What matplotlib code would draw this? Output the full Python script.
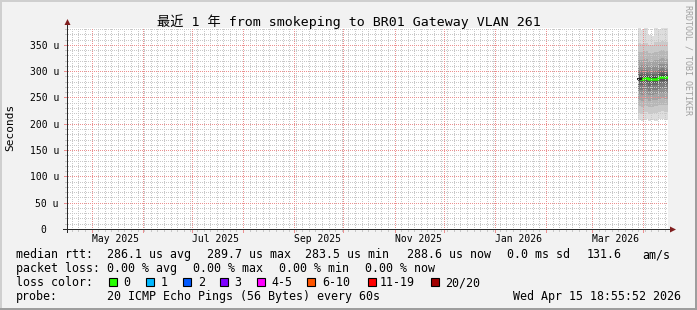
import matplotlib
matplotlib.use("Agg")
import matplotlib.pyplot as plt
import matplotlib.dates as mdates
from matplotlib.patches import Rectangle, Polygon
from matplotlib.transforms import blended_transform_factory
from datetime import datetime
import numpy as np

# ---------------- data ----------------
title = "最近 1 年 from smokeping to BR01 Gateway VLAN 261"
y_label = "Seconds"
t_start = datetime(2025, 4, 15, 18, 55, 52)
t_end = datetime(2026, 4, 15, 18, 55, 52)

month_labels = ["May 2025", "Jul 2025", "Sep 2025", "Nov 2025", "Jan 2026", "Mar 2026"]
month_label_dates = [datetime(2025, 5, 15), datetime(2025, 7, 15), datetime(2025, 9, 15),
                     datetime(2025, 11, 15), datetime(2026, 1, 15), datetime(2026, 3, 15)]

y_ticks_us = [0, 50, 100, 150, 200, 250, 300, 350]
y_minor_step_us = 10
y_max_us = 382
x_minor_step_days = 4

step_times = [datetime(2026, 3, 28, 12), datetime(2026, 3, 30, 12), datetime(2026, 4, 1, 12),
              datetime(2026, 4, 3, 12), datetime(2026, 4, 5, 12), datetime(2026, 4, 7, 12),
              datetime(2026, 4, 9, 12), datetime(2026, 4, 11, 12), datetime(2026, 4, 13, 12)]
median_us = [285.5, 286.0, 287.0, 284.5, 286.0, 285.0, 288.0, 289.5, 289.0]

# sorted 20 ping RTTs (us) per step
sorted_pings_us = [
    [208, 221, 233, 246, 256, 265, 274, 279, 283, 285.5, 287, 289, 292, 295, 301, 310, 321, 337, 353, 390],
    [206, 219, 232, 244, 255, 264, 273, 279, 283, 286, 287.5, 289.5, 292, 296, 302, 311, 322, 336, 351, 378],
    [209, 222, 234, 247, 257, 266, 275, 280, 284, 287, 288.5, 290.5, 293, 297, 303, 312, 323, 338, 354, 390],
    [205, 218, 231, 243, 254, 263, 272, 277, 281, 284.5, 286, 288, 291, 294, 300, 308, 319, 334, 350, 369],
    [207, 220, 232, 245, 255, 264, 273, 278, 283, 286, 287.5, 289.5, 292, 295, 301, 309, 320, 335, 350, 366],
    [206, 220, 233, 245, 256, 265, 273, 278, 282, 285, 286.5, 288.5, 291, 295, 301, 310, 321, 337, 355, 390],
    [209, 222, 235, 247, 258, 267, 276, 281, 285, 288, 289.5, 291.5, 294, 298, 304, 313, 324, 339, 355, 380],
    [210, 224, 236, 249, 259, 268, 277, 282, 287, 289.5, 291, 293, 296, 300, 306, 314, 325, 340, 357, 390],
    [208, 222, 235, 248, 258, 267, 276, 281, 286, 289, 290.5, 292.5, 295, 299, 305, 313, 324, 339, 356, 388],
]

legend_rows = [
    [("median rtt:", 16), ("286.1 us avg", 107.3), ("289.7 us max", 207.3), ("283.5 us min", 305),
     ("288.6 us now", 407.3), ("0.0 ms sd", 507.3), ("131.6", 586.7), ("am/s", 642.7)],
    [("packet loss:", 16), ("0.00 % avg", 107.3), ("0.00 % max", 193.3), ("0.00 % min", 279.3),
     ("0.00 % now", 365)],
    [("loss color:", 16)],
    [("probe:", 16), ("20 ICMP Echo Pings (56 Bytes) every 60s", 107.3),
     ("Wed Apr 15 18:55:52 2026", 513.3)],
]
loss_labels = ["0", "1", "2", "3", "4-5", "6-10", "11-19", "20/20"]
loss_colors = ["#26ff00", "#00b8ff", "#0059ff", "#7e00ff", "#ff00ff", "#ff5500", "#ff0000", "#a10000"]
loss_box_x = [108.5, 145.7, 182.7, 219.5, 256.7, 307.3, 368.3, 430.7]
loss_text_x = [123, 160.7, 197.7, 234.3, 271.7, 322.3, 380, 445.3]

# ---------------- figure ----------------
W, H, DPI = 697, 310, 100
MONO = ["DejaVu Sans Mono", "Noto Sans CJK SC"]
plt.rcParams["font.family"] = MONO

fig = plt.figure(figsize=(W / DPI, H / DPI), dpi=DPI, facecolor="#f2f2f2")

def fx(px):
    return px / W

def fy(py):
    return 1 - py / H

L, R, T, B = 67, 668, 28, 229
ax = fig.add_axes([fx(L), fy(B), fx(R - L), (B - T) / H])
ax.set_facecolor("white")
x0, x1 = mdates.date2num(t_start), mdates.date2num(t_end)
ax.set_xlim(x0, x1)
ax.set_ylim(0, y_max_us)
for s in ax.spines.values():
    s.set_visible(False)

# tick labels (ticks themselves are painted in the grid layer)
ax.set_xticks([])
ax.set_yticks(y_ticks_us)
ax.set_yticklabels([("%d u" % v) if v else "0  " for v in y_ticks_us], fontsize=7)
ax.tick_params(axis="y", length=0, pad=5.8)

# smoke
xs = mdates.date2num(step_times + [t_end])
P = np.array(sorted_pings_us)
P = np.vstack([P, P[-1:]])
n = P.shape[1]
half = n // 2
for i in range(1, half + 1):
    c = int(190 / half * (half - i)) + 50
    col = "#%02x%02x%02x" % (c, c, c)
    ax.fill_between(xs, P[:, i - 1], P[:, n - i], step="post", color=col, linewidth=0, zorder=2)

med = np.array(median_us + [median_us[-1]])
ax.step(xs, med, where="post", color="#202020", linewidth=1.0, zorder=3)
ax.step(xs[1:], med[1:], where="post", color=loss_colors[0], linewidth=1.8, zorder=4)
ax.plot([xs[0], xs[1]], [med[0], med[0]], color="#202020", linewidth=1.4, zorder=4)

# ---------------- crisp rrdtool-like grid layer ----------------
maj_x = [v for v in mdates.MonthLocator().tick_values(t_start, t_end) if x0 < v < x1]
day0 = np.floor(x0)
min_x = [v for v in np.arange(day0, x1, x_minor_step_days) if x0 < v < x1]
maj_y = [v for v in y_ticks_us if v > 0]
min_y = [v for v in np.arange(y_minor_step_us, y_max_us, y_minor_step_us) if v not in y_ticks_us]

def col_of(x):
    return int(np.floor(ax.transData.transform((x, 0))[0]))

def row_of(y):
    return int(round(H - ax.transData.transform((x0, y))[1]))

img = np.zeros((H, W, 4))
def rgba(h, a=1.0):
    return np.array(list(matplotlib.colors.to_rgb(h)) + [a])

MINOR = rgba("#c8c8c8")
MAJOR = rgba("#ec9090")
AXIS = rgba("#2a2a2a")

def vline(c, color, tick):
    for r in range(T + 1, B):
        if r % 2 == 1:
            img[r, c] = color
    for r in range(B + 1, B + 1 + tick):
        img[r, c] = color

def hline(r, color, tick):
    for c in range(L + 1, R):
        if c % 2 == 0:
            img[r, c] = color
    for c in range(L - tick, L):
        img[r, c] = color

for v in min_x:
    vline(col_of(v), MINOR, 2)
for v in min_y:
    hline(row_of(v), MINOR, 2)
for v in maj_x:
    vline(col_of(v), MAJOR, 3)
for v in maj_y:
    hline(row_of(v), MAJOR, 3)

# axes
r0 = row_of(0)
c0 = col_of(x0)
img[r0, c0 - 4:R + 3] = AXIS
img[T - 4:r0 + 4, c0] = AXIS

gi = fig.figimage(img, xo=0, yo=0, origin="upper", zorder=5)
gi.set_interpolation("nearest")
gi.set_resample(False)

# arrows
ARROW = "#801f1f"
fig.patches.append(Polygon([[fx(c0 + 0.5), fy(T - 9)], [fx(c0 - 2.5), fy(T - 3)], [fx(c0 + 3.5), fy(T - 3)]],
                           closed=True, transform=fig.transFigure, color=ARROW, lw=0, zorder=6))
fig.patches.append(Polygon([[fx(R + 8), fy(r0 + 0.5)], [fx(R + 2), fy(r0 - 2.5)], [fx(R + 2), fy(r0 + 3.5)]],
                           closed=True, transform=fig.transFigure, color=ARROW, lw=0, zorder=6))

# month labels
trans = blended_transform_factory(ax.transData, ax.transAxes)
for lab, d in zip(month_labels, month_label_dates):
    ax.text(mdates.date2num(d), -12.5 / (B - T), lab, transform=trans, ha="center", va="baseline",
            fontsize=7, family=MONO)

# title and y label
fig.text(0.5, fy(26), title, ha="center", va="baseline", fontsize=9.5, family=MONO)
fig.text(fx(10.5), fy(127), y_label, rotation=90, ha="center", va="center", fontsize=8, family=MONO)
fig.text(fx(688), fy(5), "RRDTOOL / TOBI OETIKER", rotation=270, ha="center", va="top",
         fontsize=6, color="#a0a0a0", family=MONO)

# legend
baselines = [258, 272.3, 286.3, 300.3]
for row, yb in zip(legend_rows, baselines):
    for txt, x in row:
        fig.text(fx(x), fy(yb), txt, ha="left", va="baseline", fontsize=8.4, family=MONO)
for lab, col, bx, tx in zip(loss_labels, loss_colors, loss_box_x, loss_text_x):
    fig.patches.append(Rectangle((fx(bx), fy(baselines[2])), 8 / W, 8 / H, transform=fig.transFigure,
                                 facecolor=col, edgecolor="black", linewidth=0.8))
    fig.text(fx(tx), fy(baselines[2]), lab, ha="left", va="baseline", fontsize=8.4, family=MONO)

# 3D frame
fig.patches.append(Rectangle((0, 1 - 2 / H), 1, 2 / H, transform=fig.transFigure, color="#cfcfcf", lw=0))
fig.patches.append(Rectangle((0, 0), 2 / W, 1, transform=fig.transFigure, color="#cfcfcf", lw=0))
fig.patches.append(Rectangle((0, 0), 1, 2 / H, transform=fig.transFigure, color="#9e9e9e", lw=0))
fig.patches.append(Rectangle((1 - 2 / W, 0), 2 / W, 1, transform=fig.transFigure, color="#9e9e9e", lw=0))

fig.savefig("out.png", dpi=DPI, facecolor=fig.get_facecolor())
